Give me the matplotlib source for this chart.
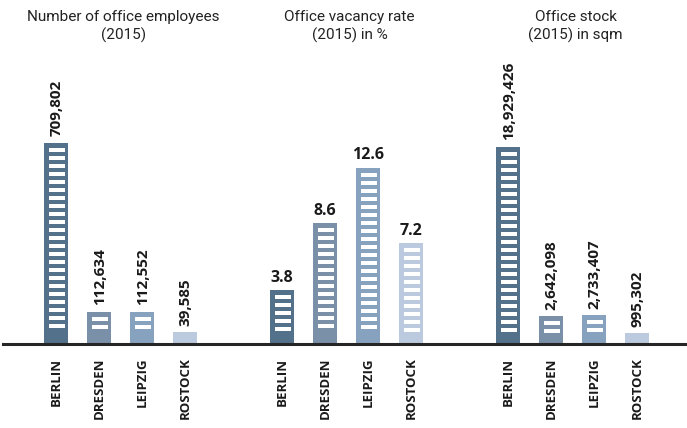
import matplotlib
matplotlib.use('Agg')
import matplotlib.pyplot as plt
from matplotlib import font_manager
from matplotlib.lines import Line2D

cities = ['BERLIN', 'DRESDEN', 'LEIPZIG', 'ROSTOCK']
employees = [709802, 112634, 112552, 39585]
vacancy = [3.8, 8.6, 12.6, 7.2]
stock = [18929426, 2642098, 2733407, 995302]

employee_labels = ['709,802', '112,634', '112,552', '39,585']
vacancy_labels = ['3.8', '8.6', '12.6', '7.2']
stock_labels = ['18,929,426', '2,642,098', '2,733,407', '995,302']

titles = ['Number of office employees\n(2015)',
          'Office vacancy rate\n(2015) in %',
          'Office stock\n(2015) in sqm']

colors = ['#54718c', '#7a8fa8', '#87a2bf', '#bccadf']


def pick_font(names):
    for n in names:
        try:
            font_manager.findfont(n, fallback_to_default=False)
            return n
        except Exception:
            pass
    return 'DejaVu Sans'


title_font = pick_font(['Liberation Sans Narrow', 'Roboto'])
bold_font = pick_font(['Open Sans', 'Roboto'])

W, H = 687, 428
fig = plt.figure(figsize=(W / 100, H / 100), dpi=100)

# panel geometry in pixels
base_px = 343.5
ax_h_px = 220
first_centers = [56, 282, 508]
step = 43
ymaxes = [777000, 15.75, 21.14e6]
rotated = [True, False, True]
panels = [(employees, employee_labels), (vacancy, vacancy_labels), (stock, stock_labels)]


def draw_panel(k):
    vals, labs = panels[k]
    left = first_centers[k] - step / 2
    ax = fig.add_axes([left / W, (H - base_px) / H, 4 * step / W, ax_h_px / H])
    ax.set_xlim(-0.5, 3.5)
    ax.set_ylim(0, ymaxes[k])
    ax.axis('off')
    per_px = ymaxes[k] / ax_h_px
    xs = range(len(vals))
    ax.bar(xs, vals, width=24 / step, color=colors, clip_on=False, zorder=2)
    # windows
    for x, v in zip(xs, vals):
        h = v / per_px
        n = int((h - 9) // 8)
        for j in range(max(n, 0)):
            top = v - (5 + 8 * j) * per_px
            ax.bar(x + 0.5 / step, 4 * per_px, bottom=top - 4 * per_px,
                   width=16 / step, color='white', zorder=3, clip_on=False)
    for x, v, t in zip(xs, vals, labs):
        if rotated[k]:
            ax.annotate(t, (x, v), xytext=(0.5, 4.5), textcoords='offset points',
                        rotation=90, ha='center', va='bottom', fontsize=11,
                        fontweight='bold', family=bold_font, color='#1a1a1a',
                        annotation_clip=False)
        else:
            ax.annotate(t, (x, v), xytext=(0, 3), textcoords='offset points',
                        ha='center', va='bottom', fontsize=11.5,
                        fontweight='bold', family=bold_font, color='#1a1a1a',
                        annotation_clip=False)
    # city names under the base line
    for x, c in zip(xs, cities):
        ax.text(x, -14 / ax_h_px, c, transform=ax.get_xaxis_transform(), rotation=90,
                ha='center', va='top', fontsize=9.5, fontweight='bold',
                family=bold_font, color='#1a1a1a')
    fig.text((first_centers[k] + 1.5 * step + 3) / W, 1 - 10 / H, titles[k],
             ha='center', va='top', fontsize=11, family=title_font,
             color='#222222', linespacing=1.3)
    return ax


for k in range(3):
    draw_panel(k)

fig.add_artist(Line2D([3 / W, 1], [(H - base_px) / H] * 2, transform=fig.transFigure,
                      color='#262626', lw=2.2, zorder=5))

fig.savefig('out.png', dpi=100)
